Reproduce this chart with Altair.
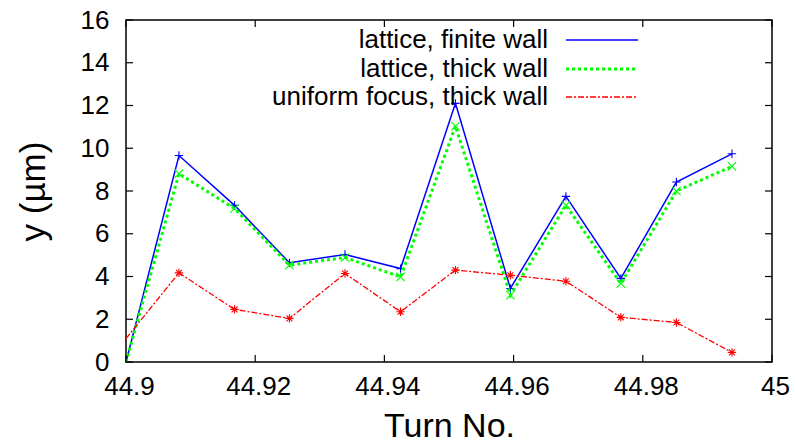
import altair as alt
import pandas as pd

# ---- data ----
turns = [44.9, 44.9082, 44.9168, 44.9253, 44.9339, 44.9425, 44.951,
         44.9595, 44.9681, 44.9766, 44.9852, 44.9938]
finite_wall = [0.0, 9.66, 7.33, 4.64, 5.03, 4.37, 12.1, 3.44, 7.75, 3.91, 8.42, 9.74]
thick_wall = [0.0, 8.81, 7.18, 4.53, 4.89, 3.98, 11.03, 3.13, 7.33, 3.67, 8.0, 9.15]
uniform_thick = [1.1, 4.17, 2.46, 2.04, 4.14, 2.35, 4.30, 4.06, 3.78, 2.09, 1.85, 0.45]

series_names = ["lattice, finite wall", "lattice, thick wall", "uniform focus, thick wall"]
series_values = [finite_wall, thick_wall, uniform_thick]
series_colors = ["#0000ff", "#00ff00", "#ff0000"]

x_ticks = [44.9, 44.92, 44.94, 44.96, 44.98, 45.0]
y_ticks = [0, 2, 4, 6, 8, 10, 12, 14, 16]

FONT = "Liberation Sans"
W, H = 646, 342

styles = [
    dict(strokeWidth=1.5),
    dict(strokeWidth=3, strokeDash=[3, 3]),
    dict(strokeWidth=1.3, strokeDash=[6, 2, 2, 2]),
]
shapes = [
    "M-1,0L1,0M0,-1L0,1",
    "M-1,-1L1,1M-1,1L1,-1",
    "M-1,0L1,0M0,-1L0,1M-0.7,-0.7L0.7,0.7M-0.7,0.7L0.7,-0.7",
]

xscale = alt.Scale(domain=[44.9, 45.0], nice=False, zero=False)
yscale = alt.Scale(domain=[0, 16], nice=False)

xaxis = alt.Axis(values=x_ticks, format=".4~r", title="Turn No.", grid=False,
                 domain=False, ticks=False, labelFontSize=26, labelPadding=11,
                 labelOffset=3, titleFontSize=34, titleFontWeight="normal",
                 titlePadding=10, labelFont=FONT, titleFont=FONT, labelColor="black",
                 titleColor="black", labelFlush=False, labelOverlap=False)
yaxis = alt.Axis(values=y_ticks, title="y (µm)", grid=False, domain=False, ticks=False,
                 labelFontSize=26, labelPadding=17, titleFontSize=35,
                 titleFontWeight="normal", titlePadding=29, labelFont=FONT,
                 titleFont=FONT, labelColor="black", titleColor="black",
                 labelOverlap=False)


def X(field):
    return alt.X(field, scale=xscale, axis=xaxis)


def Y(field):
    return alt.Y(field, scale=yscale, axis=yaxis)


layers = []
for i, (name, vals, col) in enumerate(zip(series_names, series_values, series_colors)):
    df = pd.DataFrame({"turn": turns, "y": vals})
    line = alt.Chart(df).mark_line(color=col, clip=True, **styles[i]).encode(
        x=X("turn:Q"), y=Y("y:Q"))
    pts = alt.Chart(df).transform_filter(alt.datum.turn > 44.9).mark_point(
        shape=shapes[i], size=70, filled=False, color=col, strokeWidth=1.1, opacity=1
    ).encode(x=X("turn:Q"), y=Y("y:Q"))
    layers += [line, pts]

# inward tick marks on all four sides
xt = pd.DataFrame({"t": x_ticks})
yt = pd.DataFrame({"t": y_ticks})
TL = 7
tick_style = dict(color="black", strokeWidth=1.2)
layers.append(alt.Chart(xt).mark_rule(**tick_style).encode(
    x=X("t:Q"), y=alt.value(H), y2=alt.value(H - TL)))
layers.append(alt.Chart(xt).mark_rule(**tick_style).encode(
    x=X("t:Q"), y=alt.value(0), y2=alt.value(TL)))
layers.append(alt.Chart(yt).mark_rule(**tick_style).encode(
    y=Y("t:Q"), x=alt.value(0), x2=alt.value(TL)))
layers.append(alt.Chart(yt).mark_rule(**tick_style).encode(
    y=Y("t:Q"), x=alt.value(W), x2=alt.value(W - TL)))

# gnuplot-style key: text right-aligned, sample line to its right
legend_df = pd.DataFrame({"name": series_names})
row_y = [20, 49, 77]
for i, (name, col) in enumerate(zip(series_names, series_colors)):
    d = legend_df[legend_df["name"] == name]
    layers.append(alt.Chart(d).mark_text(align="right", baseline="middle", fontSize=26,
                                         font=FONT, color="black").encode(
        text="name:N", x=alt.value(422), y=alt.value(row_y[i])))
    layers.append(alt.Chart(d).mark_rule(stroke=col, **styles[i]).encode(
        x=alt.value(440), x2=alt.value(512), y=alt.value(row_y[i])))

chart = alt.layer(*layers).properties(
    width=W, height=H, autosize="none",
    padding={"left": 126, "top": 20, "right": 795 - 126 - W, "bottom": 445 - 20 - H},
).configure_view(stroke="black", strokeWidth=1.5)

chart.save("out.html", embed_options={"renderer": "svg", "actions": False})
